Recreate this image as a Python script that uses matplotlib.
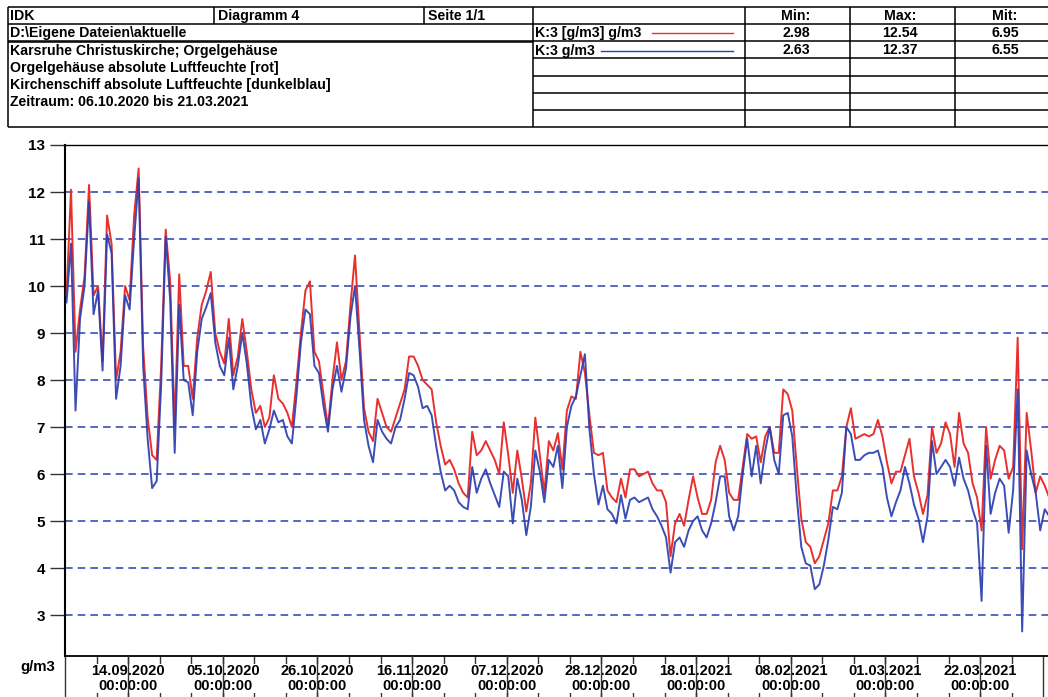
import matplotlib
matplotlib.use('Agg')
import matplotlib.pyplot as plt
import matplotlib.dates as mdates
import matplotlib.transforms as mtransforms
import pandas as pd

plt.rcParams['font.family'] = ['Liberation Sans', 'DejaVu Sans']
plt.rcParams['font.weight'] = 'bold'

# Messwerte absolute Luftfeuchte, Tageswerte ab 31.08.2020 08:00
beginn = '2020-08-31 08:00'
orgel = [9.8, 12.05, 8.6, 9.5, 10.2, 12.15, 9.8, 10.0, 8.4, 11.5,
         10.9, 8.0, 8.6, 10.0, 9.7, 11.5, 12.5, 8.7, 7.2, 6.4,
         6.3, 8.3, 11.2, 10.1, 7.0, 10.25, 8.3, 8.3, 7.6, 8.9,
         9.6, 9.9, 10.3, 9.0, 8.6, 8.35, 9.3, 8.1, 8.5, 9.3,
         8.6, 7.8, 7.3, 7.45, 7.0, 7.2, 8.1, 7.6, 7.5, 7.3,
         7.0, 7.95, 9.0, 9.9, 10.1,
         8.6, 8.4, 7.7, 7.0, 8.0, 8.8, 8.0, 8.4, 9.6, 10.65,
         9.0, 7.4, 6.9, 6.7, 7.6, 7.3, 7.0, 6.9, 7.2, 7.5,
         7.8, 8.5, 8.5, 8.3, 8.0, 7.9, 7.8, 7.1, 6.6, 6.2,
         6.3, 6.1, 5.8, 5.6, 5.5, 6.9, 6.4, 6.5, 6.7, 6.5,
         6.3, 6.0, 7.1, 6.4, 5.6, 6.5, 5.9, 5.2, 5.8, 7.2,
         6.4, 5.6, 6.7, 6.5,
         6.87, 6.1, 7.35, 7.65, 7.6, 8.6, 8.15, 7.25, 6.45, 6.4,
         6.45, 5.65, 5.5, 5.4, 5.9, 5.5, 6.1, 6.1, 5.95, 6.0,
         6.05, 5.8, 5.65, 5.65, 5.4, 4.25, 4.95, 5.15, 4.9, 5.45,
         5.95, 5.5, 5.15, 5.15, 5.45, 6.25, 6.6, 6.3, 5.6, 5.45,
         5.45, 6.15, 6.85, 6.75, 6.8, 6.25, 6.8, 7.0, 6.45, 6.45,
         7.8, 7.7, 7.35, 6.15, 5.05,
         4.55, 4.45, 4.1, 4.25, 4.6, 4.95, 5.65, 5.65, 5.95, 7.0,
         7.4, 6.75, 6.8, 6.85, 6.8, 6.85, 7.15, 6.8, 6.25, 5.8,
         6.05, 6.05, 6.4, 6.75, 5.95, 5.6, 5.15, 5.55, 7.0, 6.45,
         6.65, 7.1, 6.85, 6.15, 7.3, 6.65, 6.45, 5.8, 5.5, 4.8,
         7.0, 5.9, 6.3, 6.6, 6.5, 5.9, 6.15, 8.9, 4.4, 7.3,
         6.5, 5.6, 5.95, 5.75, 5.5]
schiff = [9.65, 10.9, 7.35, 9.3, 10.0, 11.8, 9.4, 9.9, 8.2, 11.1,
          10.7, 7.6, 8.3, 9.8, 9.5, 11.0, 12.3, 8.3, 6.75, 5.7,
          5.85, 7.9, 11.05, 9.7, 6.45, 9.6, 8.0, 7.95, 7.25, 8.6,
          9.3, 9.55, 9.85, 8.8, 8.3, 8.1, 8.9, 7.8, 8.3, 9.0,
          8.35, 7.45, 6.95, 7.15, 6.65, 6.95, 7.35, 7.1, 7.15, 6.8,
          6.65, 7.65, 8.8, 9.5, 9.4,
          8.3, 8.15, 7.45, 6.9, 7.8, 8.3, 7.75, 8.25, 9.35, 10.0,
          8.65, 7.15, 6.6, 6.25, 7.15, 6.9, 6.75, 6.65, 7.0, 7.15,
          7.6, 8.15, 8.1, 7.85, 7.4, 7.45, 7.25, 6.6, 6.05, 5.65,
          5.75, 5.65, 5.4, 5.3, 5.25, 6.15, 5.6, 5.9, 6.1, 5.8,
          5.55, 5.3, 6.05, 5.95, 4.95, 5.9, 5.45, 4.7, 5.3, 6.5,
          6.05, 5.4, 6.3, 6.15,
          6.6, 5.7, 7.0, 7.45, 7.65, 8.1, 8.55, 6.95, 6.0, 5.35,
          5.75, 5.25, 5.15, 4.95, 5.55, 5.05, 5.45, 5.5, 5.4, 5.45,
          5.5, 5.25, 5.1, 4.9, 4.65, 3.9, 4.55, 4.65, 4.45, 4.8,
          5.0, 5.1, 4.8, 4.65, 4.95, 5.4, 5.95, 5.95, 5.1, 4.8,
          5.1, 6.0, 6.75, 5.95, 6.6, 5.8, 6.5, 7.0, 6.3, 6.0,
          7.25, 7.3, 6.8, 5.5, 4.45,
          4.1, 4.05, 3.55, 3.65, 4.05, 4.6, 5.3, 5.25, 5.6, 7.0,
          6.85, 6.3, 6.3, 6.4, 6.45, 6.45, 6.5, 6.15, 5.5, 5.1,
          5.4, 5.65, 6.15, 5.8, 5.35, 5.05, 4.55, 5.1, 6.7, 6.0,
          6.15, 6.3, 6.15, 5.75, 6.35, 5.9, 5.65, 5.25, 4.95, 3.3,
          6.6, 5.15, 5.6, 5.9, 5.75, 4.75, 5.65, 7.8, 2.65, 6.5,
          6.0, 5.6, 4.8, 5.25, 5.1]
zeit = pd.date_range(beginn, periods=len(orgel), freq='D')

# Kopfdaten
kopf_zeile1 = ['IDK', 'Diagramm 4', 'Seite 1/1']
kopf_info = ['D:\\Eigene Dateien\\aktuelle',
             'Karsruhe Christuskirche; Orgelgehäuse',
             'Orgelgehäuse absolute Luftfeuchte [rot]',
             'Kirchenschiff absolute Luftfeuchte [dunkelblau]',
             'Zeitraum: 06.10.2020 bis 21.03.2021']
kanal_namen = ['K:3 [g/m3] g/m3', 'K:3 g/m3']
kanal_farben = ['#e8302e', '#2b3eb0']
stat_titel = ['Min:', 'Max:', 'Mit:']
stat_min = ['2.98', '2.63']
stat_max = ['12.54', '12.37']
stat_mit = ['6.95', '6.55']

fig = plt.figure(figsize=(10.48, 6.97), dpi=100)

# Kopf-Tabelle in Pixelkoordinaten
kopf = fig.add_axes([0, 0, 1, 1])
kopf.set_xlim(0, 1048)
kopf.set_ylim(697, 0)
kopf.axis('off')
lw = 1.1
kopf.hlines([7, 127], 8, 1060, color='black', lw=lw)
kopf.hlines([24, 41], 8, 1060, color='black', lw=lw)
kopf.hlines([42], 8, 533, color='black', lw=lw)
kopf.hlines([58, 76, 93, 110], 533, 1060, color='black', lw=lw)
kopf.vlines([8, 533, 745, 850, 955], 7, 127, color='black', lw=lw)
kopf.vlines([214, 424], 7, 24, color='black', lw=lw)

fs = 10.2
for x, t in zip([10, 218, 428], kopf_zeile1):
    kopf.text(x, 16, t, fontsize=fs, va='center', ha='left')
for y, t in zip([33, 50.5, 68, 85.5, 102.5], kopf_info):
    kopf.text(10, y, t, fontsize=fs, va='center', ha='left')
for x, t in zip([796, 900, 1005], stat_titel):
    kopf.text(x, 16, t, fontsize=fs, va='center', ha='center')
for y, name, farbe, x0, mn, mx, mt in zip([33, 50.5], kanal_namen, kanal_farben,
                                          [652, 601], stat_min, stat_max, stat_mit):
    kopf.text(535, y, name, fontsize=fs, va='center', ha='left')
    kopf.plot([x0, 733], [y, y], color=farbe, lw=1)
    kopf.text(796, y, mn, fontsize=fs, va='center', ha='center')
    kopf.text(900, y, mx, fontsize=fs, va='center', ha='center')
    kopf.text(1005, y, mt, fontsize=fs, va='center', ha='center')

# Diagramm
ax = fig.add_axes([65 / 1048, 41 / 697, 983 / 1048, 511 / 697])
ax.plot(zeit, orgel, color=kanal_farben[0], lw=1.4, zorder=3)
ax.plot(zeit, schiff, color=kanal_farben[1], lw=1.4, alpha=0.92, zorder=4)

ax.set_xlim(pd.Timestamp('2020-08-31 08:00'), pd.Timestamp('2021-04-06 01:30'))
ax.set_ylim(2.128, 13)
ax.set_yticks(range(3, 14))
ax.tick_params(axis='y', length=10.8, width=1, color='#333333', pad=3.6, labelsize=11)
ax.grid(axis='y', color='#2b3eb0', lw=1.1, ls=(0, (5, 3.3)))

for s in ['left', 'bottom', 'top']:
    ax.spines[s].set_color('black')
ax.spines['left'].set_linewidth(1.5)
ax.spines['bottom'].set_linewidth(1.3)
ax.spines['top'].set_linewidth(1.0)
ax.spines['right'].set_visible(False)

woechentlich = pd.date_range('2020-08-31', '2021-04-05', freq='7D')
beschriftet = pd.date_range('2020-09-14', '2021-03-22', freq='21D')
ax.set_xticks(woechentlich)
ax.set_xticklabels([])
ax.tick_params(axis='x', length=29.5, width=1, color='#333333', direction='out')

trans = mtransforms.blended_transform_factory(ax.transData, ax.transAxes)
for d in beschriftet:
    xd = mdates.date2num(d)
    ax.text(xd, -0.044, d.strftime('%d.%m.%Y\n%H:%M:%S'), transform=trans,
            ha='center', va='center', fontsize=10.5, linespacing=1.05,
            bbox=dict(facecolor='white', edgecolor='none', pad=0.3),
            zorder=5, clip_on=False)
    ax.plot([xd, xd], [0, -0.082], transform=trans, color='#333333', lw=1,
            clip_on=False, zorder=6)

fig.text(20 / 1048, 1 - 667 / 697, 'g/m3', fontsize=10.8, va='center', ha='left')

fig.savefig('out.png', dpi=100)
